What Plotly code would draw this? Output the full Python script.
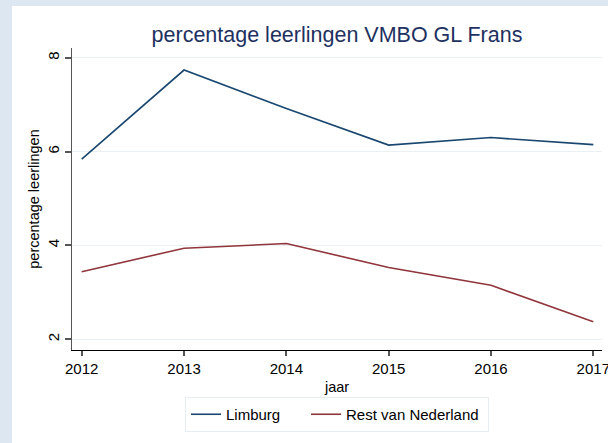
import plotly.graph_objects as go

years = [2012, 2013, 2014, 2015, 2016, 2017]
limburg = [5.84, 7.74, 6.92, 6.14, 6.30, 6.15]
rest_nl = [3.44, 3.94, 4.04, 3.53, 3.15, 2.37]
y_ticks = [2, 4, 6, 8]
series_names = ["Limburg", "Rest van Nederland"]

W, H = 608, 443
L, R, T, B = 72, 6, 48, 93
pw, ph = W - L - R, H - T - B

def px_x(p):
    return (p - L) / pw

def px_y(p):
    return (H - B - p) / ph

pad = "\u00a0" * 5
fig = go.Figure()
fig.add_trace(go.Scatter(x=years, y=limburg, mode="lines", name=series_names[0] + pad,
                         line=dict(color="#1a476f", width=1.6)))
fig.add_trace(go.Scatter(x=years, y=rest_nl, mode="lines", name=series_names[1] + "\u00a0",
                         line=dict(color="#90353b", width=1.6)))

font = "Arial, Liberation Sans, sans-serif"
fig.update_layout(
    width=W, height=H,
    margin=dict(l=L, r=R, t=T, b=B, autoexpand=False),
    paper_bgcolor="#dde7f2",
    plot_bgcolor="white",
    font=dict(family=font, size=14, color="black"),
    title=dict(text="percentage leerlingen VMBO GL Frans", x=337 / W, xanchor="center",
               xref="container", y=1 - 34 / H, yanchor="middle", yref="container",
               font=dict(size=21.5, color="#1e3160", family=font)),
    shapes=[dict(type="rect", xref="paper", yref="paper", layer="below",
                 x0=px_x(12), x1=px_x(W + 5), y0=px_y(H + 5), y1=px_y(6),
                 fillcolor="white", line=dict(width=0))],
    legend=dict(orientation="h", x=337 / W, xanchor="center", xref="container",
                y=1 - 397 / H, yanchor="top", yref="container",
                bordercolor="#e6edf3", borderwidth=1, bgcolor="white",
                font=dict(size=15, family=font)),
    showlegend=True,
)
fig.update_xaxes(range=[2011.905, 2017.085], tickvals=years, ticktext=[str(y) for y in years],
                 automargin=False, ticklabeloverflow="allow",
                 showgrid=False, zeroline=False, showline=True, linecolor="black", linewidth=1.2,
                 ticks="outside", ticklen=5, tickcolor="#555555", tickwidth=1.5,
                 title=dict(text="jaar", standoff=5, font=dict(size=14.5)),
                 tickfont=dict(size=15))
fig.update_yaxes(range=[1.77, 8.21], tickvals=y_ticks, ticktext=[str(v) for v in y_ticks],
                 automargin=False,
                 showgrid=True, gridcolor="#eaf0f3", gridwidth=1.2, zeroline=False,
                 showline=True, linecolor="#555555", linewidth=1.2,
                 ticks="outside", ticklen=6, tickcolor="#555555", tickwidth=1.5,
                 tickangle=-90, ticklabelstandoff=0,
                 title=dict(text="percentage leerlingen", standoff=1, font=dict(size=14.5)),
                 tickfont=dict(size=15))

fig.write_html("out.html", config={"displayModeBar": False},
               post_script="document.body.style.margin='0';document.body.style.overflow='hidden';")
